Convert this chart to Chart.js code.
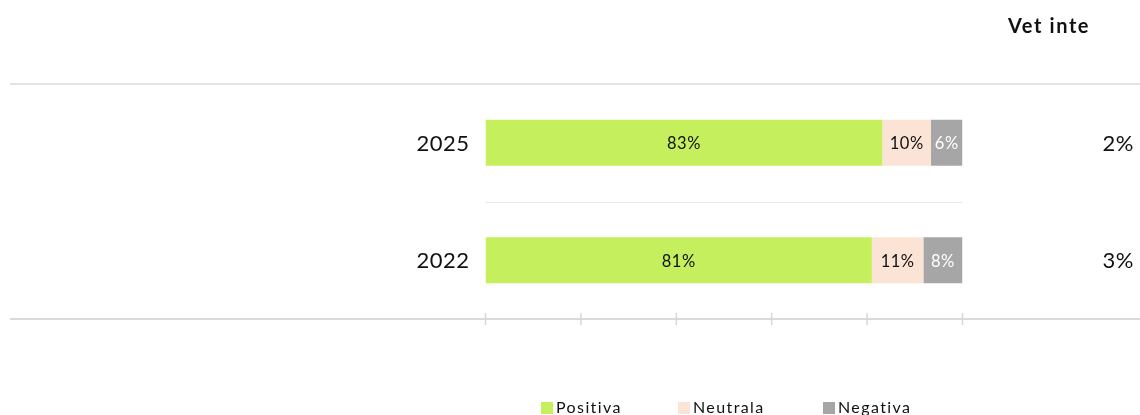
<!DOCTYPE html>
<html>
<head>
<meta charset="utf-8">
<script src="https://cdn.jsdelivr.net/npm/chart.js@4.4.1/dist/chart.umd.min.js"></script>
<style>
  html, body { margin: 0; padding: 0; background: #ffffff; }
  #wrap { width: 1140px; height: 415px; position: relative; }
</style>
</head>
<body>
<div id="wrap"><canvas id="c" width="1140" height="415"></canvas></div>
<script>
// ---- Data ----
const categories = ["2025", "2022"];
const seriesNames = ["Positiva", "Neutrala", "Negativa"];
const positiva = [83.2, 81.0];
const neutrala = [10.2, 10.8];
const negativa = [6.6, 8.2];
const positivaLabels = ["83%", "81%"];
const neutralaLabels = ["10%", "11%"];
const negativaLabels = ["6%", "8%"];
const vetInteHeader = "Vet inte";
const vetInte = ["2%", "3%"];
const xTicks = [0, 20, 40, 60, 80, 100];

const colors = ["#c6ef5e", "#fbe4d6", "#a6a6a6"];
const labelColors = ["#111111", "#111111", "#ffffff"];
const labelSets = [positivaLabels, neutralaLabels, negativaLabels];
const FONT = "Lato, 'Open Sans', sans-serif";

const decorPlugin = {
  id: "decor",
  beforeDatasetsDraw(chart) {
    const ctx = chart.ctx;
    const ca = chart.chartArea;
    const xs = chart.scales.x, ys = chart.scales.y;
    ctx.save();
    ctx.lineWidth = 2;
    ctx.strokeStyle = "#e3e3e3";
    ctx.beginPath(); ctx.moveTo(10, ca.top); ctx.lineTo(1140, ca.top); ctx.stroke();
    ctx.strokeStyle = "#dadada";
    ctx.beginPath(); ctx.moveTo(10, ca.bottom); ctx.lineTo(1140, ca.bottom); ctx.stroke();
    ctx.lineWidth = 1;
    ctx.strokeStyle = "#e8e8e8";
    for (let i = 0; i < categories.length - 1; i++) {
      const y = Math.round((ys.getPixelForValue(i) + ys.getPixelForValue(i + 1)) / 2) + 0.5;
      ctx.beginPath(); ctx.moveTo(ca.left, y); ctx.lineTo(ca.right, y); ctx.stroke();
    }
    ctx.lineWidth = 1.5;
    ctx.strokeStyle = "#d6d6d6";
    xTicks.forEach(v => {
      const x = xs.getPixelForValue(v);
      ctx.beginPath(); ctx.moveTo(x, ca.bottom - 6); ctx.lineTo(x, ca.bottom + 6); ctx.stroke();
    });
    ctx.restore();
  },
  afterDatasetsDraw(chart) {
    const ctx = chart.ctx;
    const ca = chart.chartArea;
    const ys = chart.scales.y;
    ctx.save();
    ctx.font = "16.5px " + FONT;
    ctx.textAlign = "center";
    ctx.textBaseline = "middle";
    ctx.letterSpacing = "0.5px";
    chart.data.datasets.forEach((ds, di) => {
      const meta = chart.getDatasetMeta(di);
      meta.data.forEach((el, i) => {
        const cx = (el.x + el.base) / 2;
        ctx.fillStyle = labelColors[di];
        ctx.fillText(labelSets[di][i], cx, el.y + 1);
      });
    });
    ctx.font = "22px " + FONT;
    ctx.letterSpacing = "0.5px";
    ctx.fillStyle = "#111111";
    ctx.textAlign = "right";
    categories.forEach((c, i) => {
      ctx.fillText(c, ca.left - 16, ys.getPixelForValue(i) + 1);
    });
    categories.forEach((c, i) => {
      ctx.fillText(vetInte[i], 1134, ys.getPixelForValue(i) + 1);
    });
    ctx.font = "bold 20px " + FONT;
    ctx.letterSpacing = "1.6px";
    ctx.textAlign = "center";
    ctx.fillText(vetInteHeader, 1049, 27);
    ctx.font = "16px " + FONT;
    ctx.letterSpacing = "1.4px";
    ctx.textAlign = "left";
    ctx.textBaseline = "alphabetic";
    const legendX = [541, 678, 823];
    seriesNames.forEach((n, i) => {
      ctx.fillStyle = colors[i];
      ctx.fillRect(legendX[i], 402, 12, 12);
      ctx.fillStyle = "#111111";
      ctx.fillText(n, legendX[i] + 15, 413);
    });
    ctx.restore();
  }
};

new Chart(document.getElementById("c"), {
  type: "bar",
  data: {
    labels: categories,
    datasets: [
      { label: seriesNames[0], data: positiva, backgroundColor: colors[0] },
      { label: seriesNames[1], data: neutrala, backgroundColor: colors[1] },
      { label: seriesNames[2], data: negativa, backgroundColor: colors[2] }
    ]
  },
  options: {
    indexAxis: "y",
    responsive: false,
    animation: false,
    layout: { padding: { left: 485.5, right: 177.5, top: 84, bottom: 96 } },
    datasets: { bar: { categoryPercentage: 1, barPercentage: 0.39, borderWidth: 0 } },
    scales: {
      x: { type: "linear", stacked: true, min: 0, max: 100, display: false },
      y: { type: "category", stacked: true, display: false }
    },
    plugins: { legend: { display: false }, tooltip: { enabled: false } }
  },
  plugins: [decorPlugin]
});
</script>
</body>
</html>
